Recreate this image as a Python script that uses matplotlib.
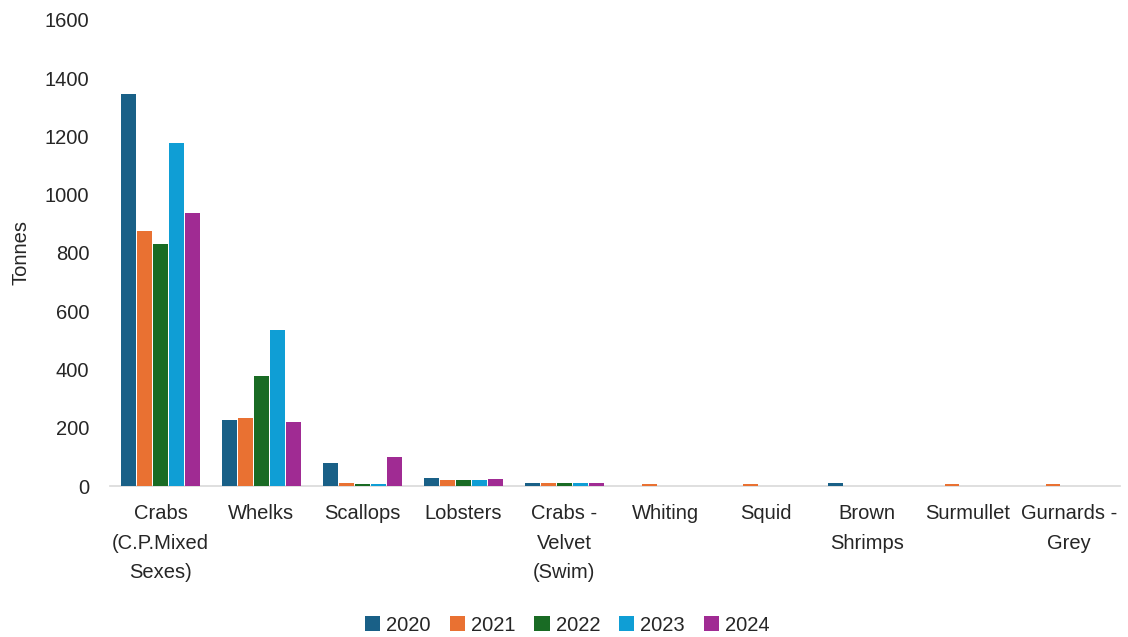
import numpy as np
import matplotlib.pyplot as plt

categories = ["Crabs\n(C.P.Mixed\nSexes)", "Whelks", "Scallops", "Lobsters",
              "Crabs -\nVelvet\n(Swim)", "Whiting", "Squid", "Brown\nShrimps",
              "Surmullet", "Gurnards -\nGrey"]
years = ["2020", "2021", "2022", "2023", "2024"]

t2020 = [1345, 227, 79, 27, 10, 0, 0, 10, 0, 0]
t2021 = [876, 233, 9, 20, 10, 8, 8, 0, 8, 8]
t2022 = [831, 378, 8, 20, 10, 0, 0, 0, 0, 0]
t2023 = [1176, 536, 8, 20, 10, 0, 0, 0, 0, 0]
t2024 = [937, 220, 100, 25, 10, 0, 0, 0, 0, 0]
series = [t2020, t2021, t2022, t2023, t2024]

colors = ["#196087", "#e97132", "#196b24", "#0f9ed5", "#a02b93"]

plt.rcParams["font.family"] = ["Liberation Sans", "DejaVu Sans"]

fig = plt.figure(figsize=(11.28, 6.37), dpi=100)
ax = fig.add_axes([0.0975, 0.237, 0.895, 0.732])

x = np.arange(len(categories))
step = 0.158
width = 0.145
for i, (vals, yr, col) in enumerate(zip(series, years, colors)):
    ax.bar(x + (i - 2) * step, vals, width=width, color=col, label=yr,
           edgecolor="none", zorder=3)

ax.set_xlim(-0.5, len(categories) - 0.5)
ax.set_ylim(0, 1600)
ax.set_yticks(range(0, 1601, 200))
ax.set_xticks(x)
ax.set_xticklabels(categories, fontsize=14.5, color="#262626", linespacing=1.7)
ax.tick_params(axis="y", labelsize=14.5, labelcolor="#262626", length=0, pad=15)
ax.tick_params(axis="x", length=0, pad=13)
for side in ["top", "right", "left"]:
    ax.spines[side].set_visible(False)
ax.spines["bottom"].set_color("#d9d9d9")
ax.spines["bottom"].set_linewidth(1.2)
ax.spines["bottom"].set_zorder(1)
ax.set_ylabel("Tonnes", fontsize=14.5, color="#262626", labelpad=10)

fig.legend(loc="lower center", bbox_to_anchor=(0.503, -0.025), ncol=5, frameon=False,
           fontsize=14.5, handlelength=0.75, handleheight=0.75, handletextpad=0.3,
           columnspacing=0.95, labelcolor="#262626")

fig.savefig("out.png", dpi=100)
